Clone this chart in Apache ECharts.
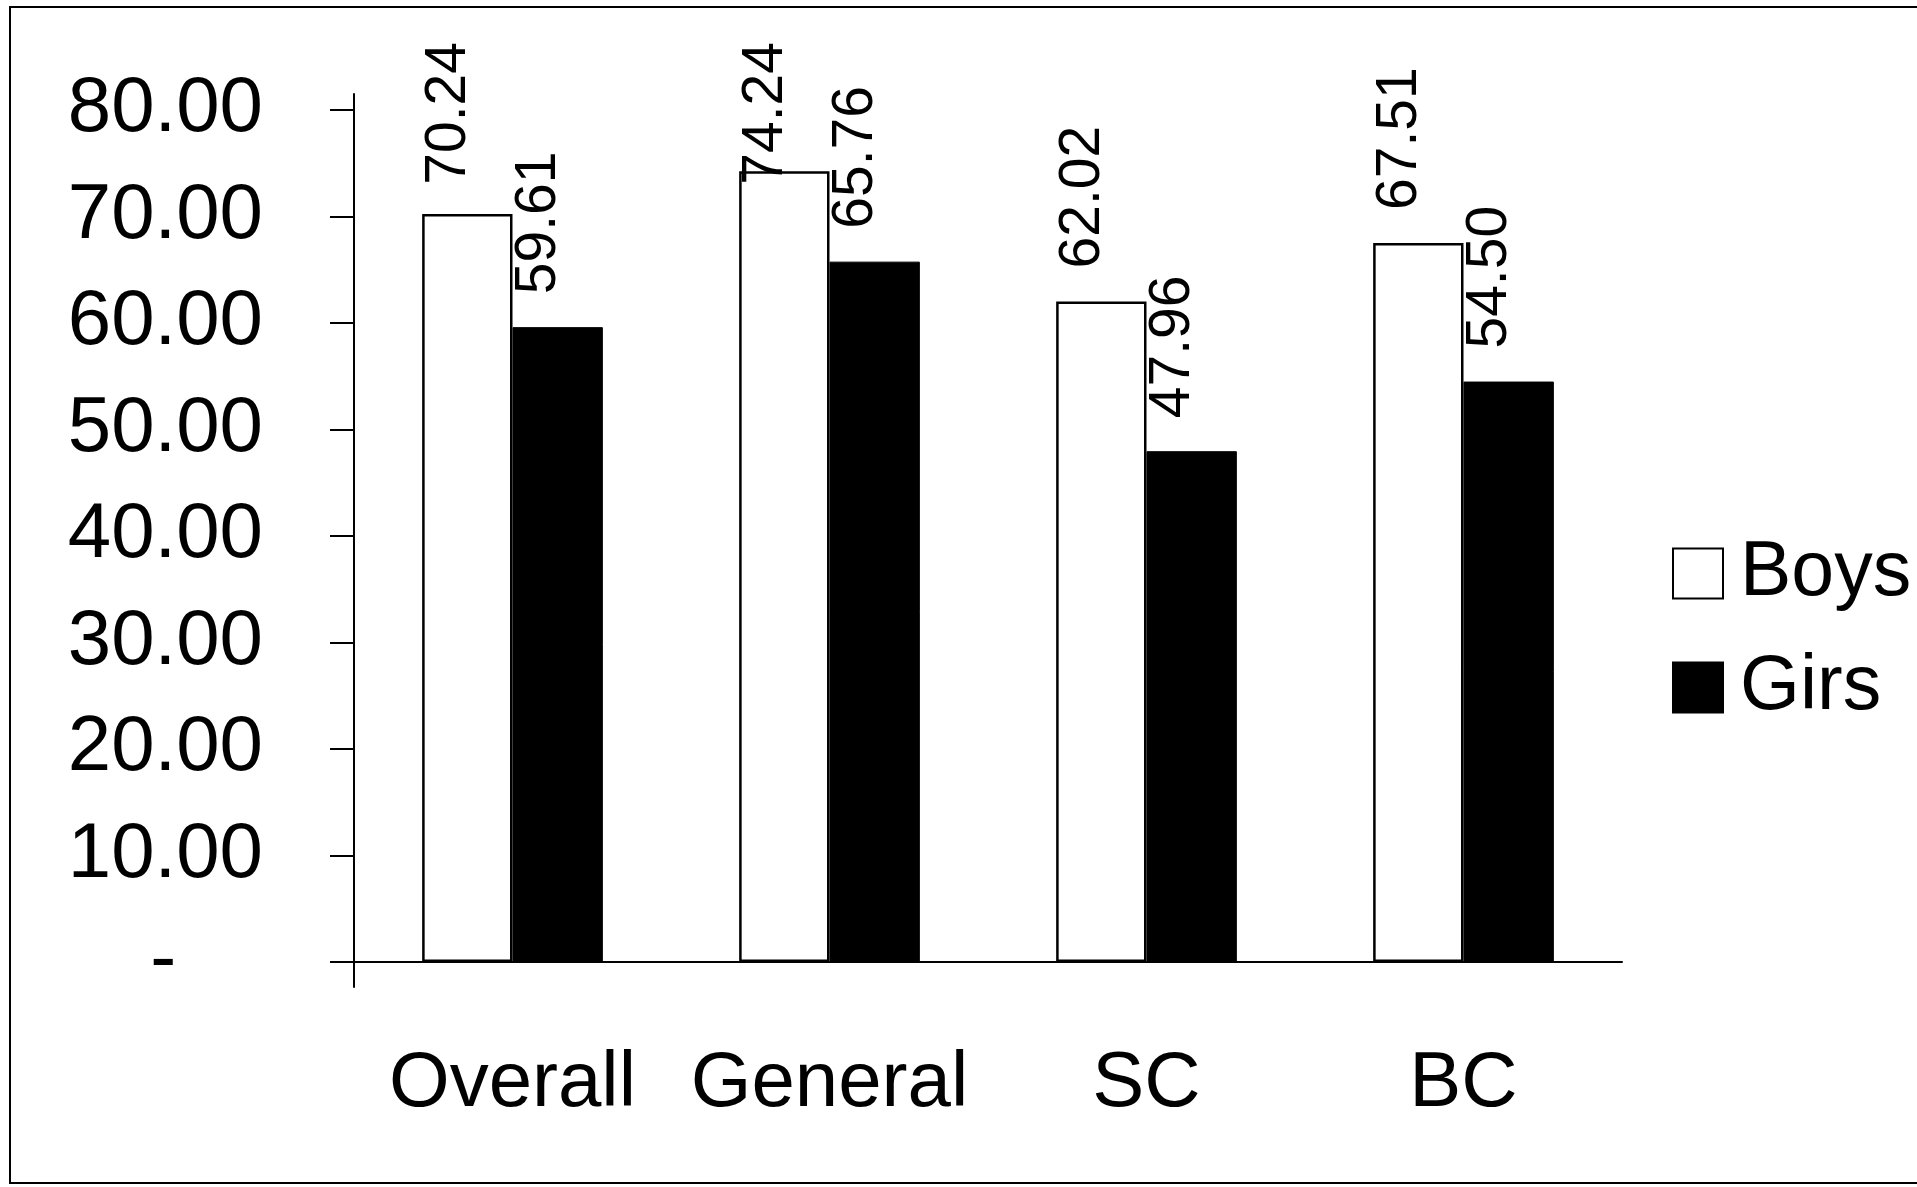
<!DOCTYPE html>
<html>
<head>
<meta charset="utf-8">
<script src="https://cdn.jsdelivr.net/npm/echarts@6/dist/echarts.min.js"></script>
<style>
html,body{margin:0;padding:0;background:#fff;}
#chart{width:1917px;height:1187px;}
</style>
</head>
<body>
<div id="chart"></div>
<script>
const categories = ['Overall', 'General', 'SC', 'BC'];
const seriesNames = ['Boys', 'Girs'];
const boys = [70.24, 74.24, 62.02, 67.51];
const girls = [59.61, 65.76, 47.96, 54.50];
const yTicks = [0, 10, 20, 30, 40, 50, 60, 70, 80];

const FONT = '"Liberation Sans", Arial, sans-serif';
const LABEL_FONT_SIZE = 57;
const LABEL_DIST = 33;
const LABEL_TOP_MIN = 42;

const chart = echarts.init(document.getElementById('chart'), null, {renderer: 'canvas'});

function measure(text) {
  const c = document.createElement('canvas').getContext('2d');
  c.font = LABEL_FONT_SIZE + 'px ' + FONT;
  return c.measureText(text).width;
}

function fmt(v) { return Number(v).toFixed(2); }

function barLabel() {
  return {
    show: true,
    position: 'top',
    distance: LABEL_DIST,
    rotate: 90,
    align: 'left',
    verticalAlign: 'middle',
    offset: [0, -18],
    fontFamily: FONT,
    fontSize: LABEL_FONT_SIZE,
    color: '#000',
    formatter: p => fmt(p.value)
  };
}

function seriesData(values, dists) {
  return values.map((v, i) => dists ? {value: v, label: {distance: dists[i]}} : v);
}

function buildOption(boysDist, girlsDist) {
  return {
    animation: false,
    backgroundColor: '#fff',
    graphic: [{
      type: 'rect',
      shape: {x: 10, y: 7, width: 1940, height: 1176},
      style: {fill: 'none', stroke: '#000', lineWidth: 2},
      silent: true,
      z: 100
    }],
    grid: {left: 354, right: 295, top: 94, bottom: 200, containLabel: false},
    legend: {
      orient: 'vertical',
      left: 1667,
      top: 530,
      itemWidth: 50,
      itemHeight: 50,
      itemGap: 37,
      icon: 'rect',
      textStyle: {fontFamily: FONT, fontSize: 77, color: '#000', padding: [0, 0, 0, 12]},
      data: seriesNames
    },
    xAxis: {
      type: 'category',
      data: categories,
      axisLine: {show: true, onZero: true, lineStyle: {color: '#000', width: 2}},
      axisTick: {show: false},
      axisLabel: {fontFamily: FONT, fontSize: 78, color: '#000', margin: 58, interval: 0},
      splitLine: {show: false}
    },
    yAxis: {
      type: 'value',
      min: -2.35,
      max: 81.5,
      axisLine: {show: true, onZero: false, lineStyle: {color: '#000', width: 2}},
      axisTick: {show: true, length: 24, lineStyle: {color: '#000', width: 2}, customValues: yTicks},
      axisLabel: {
        fontFamily: FONT, fontSize: 78, color: '#000', margin: 91,
        customValues: yTicks,
        formatter: v => v === 0 ? '-\u00a0\u00a0\u00a0\u00a0' : v.toFixed(2)
      },
      splitLine: {show: false}
    },
    series: [
      {
        name: seriesNames[0],
        type: 'bar',
        data: seriesData(boys, boysDist),
        barGap: '0%',
        barCategoryGap: '43%',
        itemStyle: {color: '#fff', borderColor: '#000', borderWidth: 2.5},
        label: barLabel()
      },
      {
        name: seriesNames[1],
        type: 'bar',
        data: seriesData(girls, girlsDist),
        barGap: '0%',
        barCategoryGap: '43%',
        itemStyle: {color: '#000', borderColor: '#000', borderWidth: 1},
        label: barLabel()
      }
    ]
  };
}

chart.setOption(buildOption(null, null));

// Keep labels inside the chart area: labels that would run past the top are pulled down.
function distances(values) {
  return values.map((v, i) => {
    const yTop = chart.convertToPixel({gridIndex: 0}, [categories[i], v])[1];
    const w = measure(fmt(v));
    let d = LABEL_DIST;
    if (yTop - d - w < LABEL_TOP_MIN) d = yTop - LABEL_TOP_MIN - w;
    return d;
  });
}

chart.setOption(buildOption(distances(boys), distances(girls)));
</script>
</body>
</html>
